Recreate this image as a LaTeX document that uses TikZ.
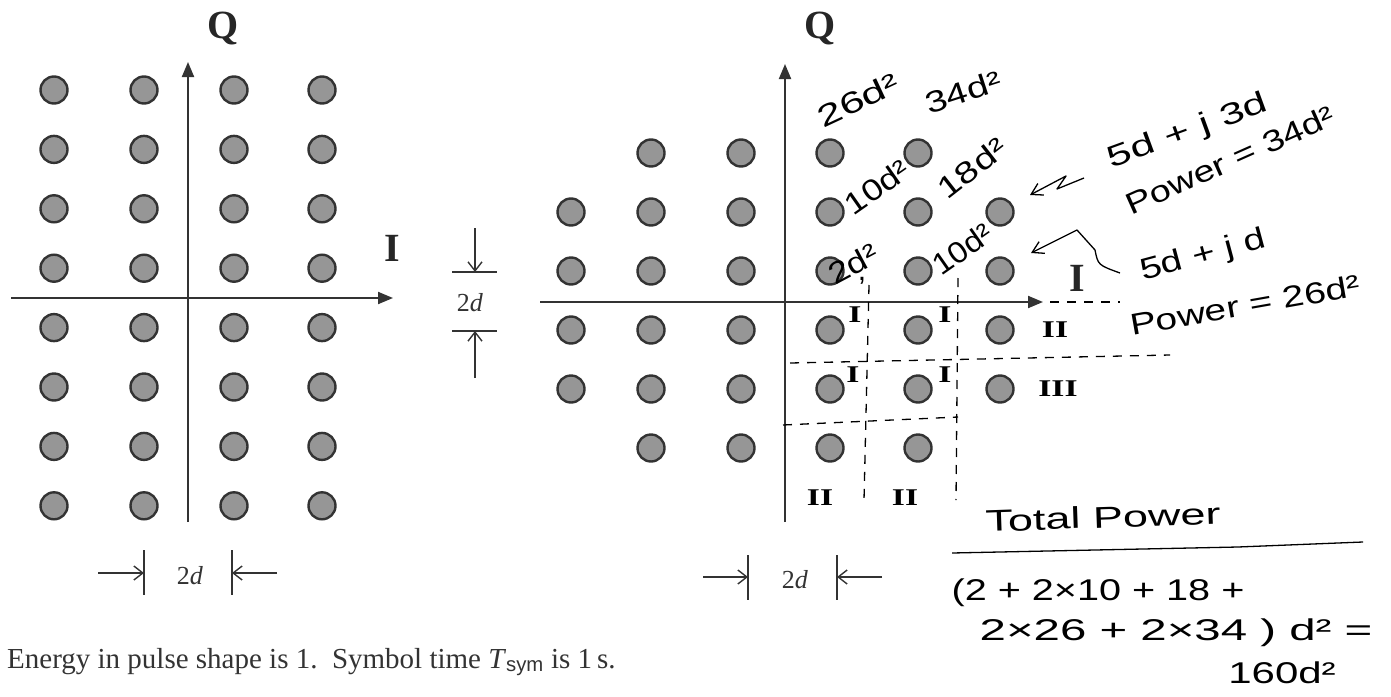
\documentclass[tikz,border=0pt]{standalone}
\usepackage{fontspec}
\setmainfont{Liberation Serif}
\setsansfont{Liberation Sans}
\newfontfamily\handfont{Liberation Sans}
\usetikzlibrary{arrows.meta}
\definecolor{dotfill}{HTML}{969696}
\definecolor{ink}{HTML}{333333}
\begin{document}
\begin{tikzpicture}[x=1pt,y=-1pt,
  dot/.style={circle, draw=ink, fill=dotfill, line width=2.4pt, minimum size=27pt, inner sep=0pt},
  axis/.style={draw=ink, line width=2pt, -{Triangle[length=15pt,width=12pt]}},
  dimbar/.style={draw=ink, line width=1.8pt},
  dimarrow/.style={draw=ink, line width=1.4pt, -{Straight Barb[length=9pt,width=14pt]}},
  axlabel/.style={font=\fontsize{40}{40}\selectfont\bfseries, text=black!85, inner sep=0pt},
  dimlabel/.style={font=\fontsize{26}{26}\selectfont, text=ink, inner sep=0pt},
  hand/.style={font=\handfont\fontsize{30}{34}\selectfont, inner sep=0pt},
  roman/.style={font=\fontsize{24}{24}\selectfont\bfseries, inner sep=0pt, xscale=1.4},
  handline/.style={draw=black, line width=1.3pt},
  handdash/.style={handline, dash pattern=on 9pt off 8pt},
  handarrow/.style={handline, line join=round, -{Straight Barb[length=11pt,width=13pt]}}
]
\useasboundingbox (0,0) rectangle (1391,696);

% ---------- left constellation ----------
\foreach [count=\i] \x in {54,144,234,322}
  \foreach \j in {0,...,7}
    \node[dot] (L\i-\j) at (\x,{90+59.4*\j}) {};
\coordinate (LQb) at (188,522);
\coordinate (LQt) at (188,62);
\coordinate (LIl) at (11,298);
\coordinate (LIr) at (393,298);
\draw[axis] (LQb) -- (LQt);
\draw[axis] (LIl) -- (LIr);
\node[axlabel] (LQ) at (223,28) {Q};
\node[axlabel] (LI) at (392,248) {I};

% left dimension
\coordinate (la1) at (144,550); \coordinate (la2) at (144,595);
\coordinate (lb1) at (232,550); \coordinate (lb2) at (232,595);
\coordinate (lat) at (98,573); \coordinate (lah) at (144,573);
\coordinate (lbt) at (277,573); \coordinate (lbh) at (232,573);
\draw[dimbar] (la1) -- (la2);
\draw[dimbar] (lb1) -- (lb2);
\draw[dimarrow] (lat) -- (lah);
\draw[dimarrow] (lbt) -- (lbh);
\node[dimlabel] (Ld) at (190,576) {2\textit{d}};

% middle dimension
\coordinate (ma1) at (452,272); \coordinate (ma2) at (497,272);
\coordinate (mb1) at (452,331); \coordinate (mb2) at (497,331);
\coordinate (mat) at (475,228); \coordinate (mah) at (475,272);
\coordinate (mbt) at (475,378); \coordinate (mbh) at (475,331);
\draw[dimbar] (ma1) -- (ma2);
\draw[dimbar] (mb1) -- (mb2);
\draw[dimarrow] (mat) -- (mah);
\draw[dimarrow] (mbt) -- (mbh);
\node[dimlabel] (Md) at (470,303) {2\textit{d}};

% ---------- right constellation ----------
\foreach [count=\i] \x in {571,651,741,830,918,1000}
  \foreach [count=\j] \y in {212,271,330,389}
    \node[dot] (R\i-\j) at (\x,\y) {};
\foreach [count=\i] \x in {651,741,830,918} {
  \node[dot] (RT\i) at (\x,153) {};
  \node[dot] (RB\i) at (\x,448) {};
}
\coordinate (RQb) at (785,522);
\coordinate (RQt) at (785,64);
\coordinate (RIl) at (540,302);
\coordinate (RIr) at (1043,302);
\draw[axis] (RQb) -- (RQt);
\draw[axis] (RIl) -- (RIr);
\node[axlabel] (RQ) at (820,28) {Q};
\node[axlabel] (RI) at (1077,278) {I};

% right dimension
\coordinate (ra1) at (748,555); \coordinate (ra2) at (748,600);
\coordinate (rb1) at (837,555); \coordinate (rb2) at (837,600);
\coordinate (rat) at (703,577); \coordinate (rah) at (748,577);
\coordinate (rbt) at (882,577); \coordinate (rbh) at (837,577);
\draw[dimbar] (ra1) -- (ra2);
\draw[dimbar] (rb1) -- (rb2);
\draw[dimarrow] (rat) -- (rah);
\draw[dimarrow] (rbt) -- (rbh);
\node[dimlabel] (Rd) at (795,580) {2\textit{d}};

% ---------- handwritten annotations ----------
\node[hand, rotate=25, xscale=1.45] (p26) at (858,100) {26d²};
\node[hand, rotate=18, xscale=1.3] (p34) at (963,92) {34d²};
\node[hand, rotate=35, xscale=1.2] (p10a) at (877,187) {10d²};
\node[hand, rotate=38, xscale=1.3] (p18) at (972,168) {18d²};
\node[hand, rotate=28, xscale=1.2] (p2) at (853,264) {2d²};
\node[hand] (pc) at (862,281) {,};
\node[hand, rotate=35, xscale=1.1] (p10b) at (962,249) {10d²};

\node[hand, rotate=20, xscale=1.45] (a1) at (1188,132) {5d + j 3d};
\node[hand, rotate=24, xscale=1.26] (a2) at (1230,160) {Power = 34d²};
\node[hand, rotate=15, xscale=1.29] (b1) at (1203,256) {5d + j d};
\node[hand, rotate=10, xscale=1.3] (b2) at (1245,305) {Power = 26d²};

% zigzag arrows
\coordinate (z1a) at (1084,178); \coordinate (z1b) at (1057,189);
\coordinate (z1c) at (1066,176); \coordinate (z1d) at (1030,195);
\draw[handarrow] (z1a) -- (z1b) -- (z1c) -- (z1d);
\coordinate (z2a) at (1120,273); \coordinate (z2b) at (1098,265);
\coordinate (z2c) at (1095,250); \coordinate (z2d) at (1077,230);
\coordinate (z2e) at (1031,253);
\draw[handarrow] (z2a) .. controls (z2b) .. (z2c) -- (z2d) -- (z2e);

% region labels
\node[roman] (r1) at (855,315) {I};
\node[roman] (r2) at (945,315) {I};
\node[roman] (r3) at (853,375) {I};
\node[roman] (r4) at (945,375) {I};
\node[roman] (r5) at (1055,330) {II};
\node[roman] (r6) at (1058,389) {III};
\node[roman] (r7) at (820,498) {II};
\node[roman] (r8) at (905,498) {II};

% dashed region borders
\coordinate (v1a) at (869,285); \coordinate (v1b) at (864,500);
\coordinate (v2a) at (958,278); \coordinate (v2b) at (956,500);
\coordinate (h1a) at (790,363); \coordinate (h1b) at (1170,355);
\coordinate (h2a) at (783,425); \coordinate (h2b) at (958,417);
\coordinate (h3a) at (1050,302); \coordinate (h3b) at (1120,302);
\draw[handdash] (v1a) -- (v1b);
\draw[handdash] (v2a) -- (v2b);
\draw[handdash] (h1a) -- (h1b);
\draw[handdash] (h2a) -- (h2b);
\draw[handdash] (h3a) -- (h3b);

% total power
\node[hand, rotate=2, xscale=1.5] (tp) at (1103,517) {Total Power};
\coordinate (tlA) at (952,553); \coordinate (tlB) at (1238,547); \coordinate (tlC) at (1363,542);
\draw[handline] (tlA) -- (tlB) -- (tlC);
\node[hand, xscale=1.32] (s1) at (1098,593) {(2 + 2×10 + 18 +};
\node[hand, xscale=1.58] (s2) at (1176,633) {2×26 + 2×34 ) d² =};
\node[hand, xscale=1.4] (s3) at (1282,673) {160d²};

% caption
\node[anchor=base west, font=\fontsize{29}{29}\selectfont, text=ink, inner sep=0pt] (note) at (7,668)
  {Energy in pulse shape is 1.\ \ Symbol time \textit{T}\textsubscript{\sffamily sym} is 1\,s.};
\end{tikzpicture}
\end{document}
